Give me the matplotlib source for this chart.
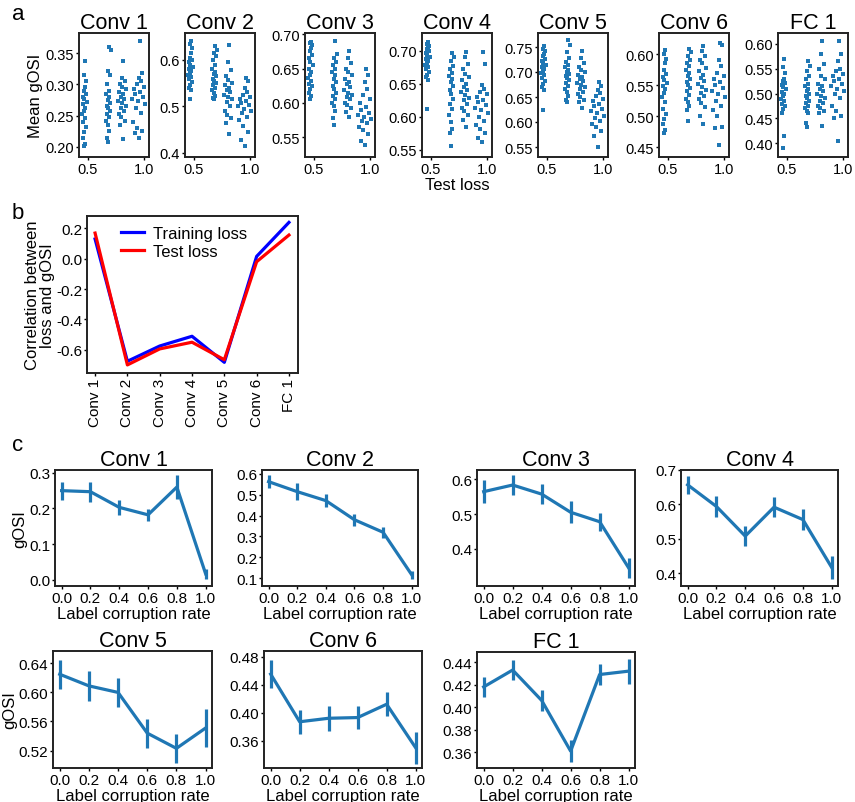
import matplotlib
matplotlib.use('Agg')
import matplotlib.pyplot as plt
import numpy as np

plt.rcParams['font.family'] = ['Liberation Sans', 'DejaVu Sans']

W, H = 855, 803
BLUE = '#1f77b4'

layers = ['Conv 1', 'Conv 2', 'Conv 3', 'Conv 4', 'Conv 5', 'Conv 6', 'FC 1']

# ---- panel a: test loss of each network (4 groups of 20), shared by all layers
test_loss = [
    0.462, 0.474, 0.455, 0.468, 0.481, 0.459, 0.470, 0.448, 0.465, 0.476,
    0.457, 0.492, 0.466, 0.452, 0.478, 0.461, 0.469, 0.485, 0.464, 0.472,
    0.680, 0.667, 0.689, 0.675, 0.660, 0.685, 0.671, 0.695, 0.678, 0.664,
    0.692, 0.673, 0.683, 0.655, 0.687, 0.669, 0.698, 0.677, 0.702, 0.682,
    0.806, 0.780, 0.823, 0.794, 0.770, 0.815, 0.788, 0.833, 0.800, 0.762,
    0.819, 0.791, 0.809, 0.776, 0.840, 0.797, 0.784, 0.828, 0.803, 0.812,
    0.948, 0.912, 0.977, 0.932, 0.895, 0.967, 0.926, 1.002, 0.943, 0.885,
    0.988, 0.920, 0.958, 0.905, 0.995, 0.938, 0.972, 0.953, 0.982, 0.962,
]

gosi_conv1 = [
    0.201, 0.205, 0.215, 0.224, 0.232, 0.240, 0.247, 0.253, 0.258, 0.263,
    0.268, 0.272, 0.276, 0.280, 0.285, 0.290, 0.295, 0.305, 0.315, 0.338,
    0.208, 0.214, 0.225, 0.235, 0.242, 0.248, 0.253, 0.257, 0.262, 0.266,
    0.270, 0.275, 0.280, 0.285, 0.290, 0.300, 0.315, 0.322, 0.355, 0.360,
    0.212, 0.235, 0.242, 0.248, 0.253, 0.258, 0.262, 0.266, 0.270, 0.273,
    0.277, 0.280, 0.284, 0.288, 0.292, 0.296, 0.300, 0.305, 0.310, 0.338,
    0.215, 0.222, 0.226, 0.230, 0.240, 0.255, 0.262, 0.268, 0.273, 0.277,
    0.280, 0.284, 0.288, 0.292, 0.296, 0.300, 0.305, 0.310, 0.318, 0.370,
]
gosi_conv2 = [
    0.515, 0.535, 0.540, 0.547, 0.553, 0.558, 0.563, 0.568, 0.572, 0.576,
    0.580, 0.585, 0.590, 0.595, 0.600, 0.605, 0.615, 0.625, 0.635, 0.640,
    0.515, 0.518, 0.522, 0.528, 0.535, 0.540, 0.545, 0.550, 0.555, 0.560,
    0.565, 0.570, 0.575, 0.580, 0.590, 0.600, 0.608, 0.615, 0.622, 0.630,
    0.440, 0.465, 0.475, 0.482, 0.490, 0.500, 0.510, 0.515, 0.520, 0.525,
    0.530, 0.535, 0.540, 0.545, 0.550, 0.557, 0.565, 0.578, 0.595, 0.632,
    0.415, 0.428, 0.445, 0.458, 0.470, 0.478, 0.485, 0.490, 0.495, 0.500,
    0.503, 0.507, 0.511, 0.515, 0.520, 0.525, 0.532, 0.540, 0.555, 0.562,
]
gosi_conv3 = [
    0.605, 0.610, 0.615, 0.620, 0.624, 0.628, 0.632, 0.636, 0.640, 0.645,
    0.650, 0.655, 0.660, 0.665, 0.670, 0.675, 0.680, 0.684, 0.687, 0.689,
    0.568, 0.578, 0.588, 0.595, 0.600, 0.605, 0.610, 0.615, 0.620, 0.625,
    0.630, 0.635, 0.640, 0.645, 0.650, 0.655, 0.660, 0.665, 0.672, 0.690,
    0.580, 0.587, 0.592, 0.597, 0.600, 0.605, 0.609, 0.612, 0.615, 0.619,
    0.623, 0.627, 0.631, 0.635, 0.640, 0.645, 0.650, 0.658, 0.665, 0.675,
    0.538, 0.545, 0.555, 0.560, 0.565, 0.570, 0.573, 0.576, 0.579, 0.582,
    0.585, 0.589, 0.594, 0.600, 0.605, 0.612, 0.620, 0.630, 0.640, 0.650,
]
gosi_conv4 = [
    0.612, 0.655, 0.660, 0.664, 0.668, 0.672, 0.675, 0.678, 0.681, 0.684,
    0.687, 0.690, 0.693, 0.696, 0.699, 0.702, 0.705, 0.708, 0.711, 0.714,
    0.555, 0.575, 0.582, 0.592, 0.602, 0.612, 0.620, 0.627, 0.634, 0.640,
    0.646, 0.652, 0.657, 0.662, 0.667, 0.672, 0.677, 0.685, 0.690, 0.697,
    0.585, 0.595, 0.602, 0.608, 0.614, 0.620, 0.625, 0.629, 0.633, 0.637,
    0.641, 0.645, 0.650, 0.655, 0.660, 0.665, 0.672, 0.680, 0.690, 0.698,
    0.562, 0.568, 0.575, 0.582, 0.588, 0.594, 0.600, 0.605, 0.610, 0.614,
    0.618, 0.622, 0.626, 0.630, 0.634, 0.638, 0.642, 0.648, 0.680, 0.698,
]
gosi_conv5 = [
    0.625, 0.665, 0.670, 0.676, 0.682, 0.688, 0.694, 0.698, 0.702, 0.706,
    0.710, 0.714, 0.718, 0.722, 0.727, 0.732, 0.737, 0.742, 0.747, 0.752,
    0.640, 0.645, 0.652, 0.660, 0.667, 0.673, 0.679, 0.684, 0.689, 0.693,
    0.697, 0.701, 0.705, 0.710, 0.715, 0.720, 0.728, 0.740, 0.755, 0.765,
    0.628, 0.640, 0.645, 0.650, 0.656, 0.661, 0.666, 0.671, 0.675, 0.679,
    0.683, 0.687, 0.691, 0.695, 0.700, 0.705, 0.710, 0.718, 0.728, 0.742,
    0.550, 0.572, 0.582, 0.590, 0.597, 0.603, 0.608, 0.613, 0.618, 0.622,
    0.627, 0.632, 0.637, 0.642, 0.647, 0.652, 0.658, 0.665, 0.672, 0.680,
]
gosi_conv6 = [
    0.472, 0.478, 0.487, 0.495, 0.503, 0.512, 0.522, 0.530, 0.537, 0.543,
    0.548, 0.553, 0.558, 0.563, 0.568, 0.575, 0.585, 0.592, 0.600, 0.607,
    0.492, 0.510, 0.516, 0.522, 0.528, 0.534, 0.540, 0.545, 0.550, 0.555,
    0.560, 0.565, 0.570, 0.575, 0.580, 0.585, 0.590, 0.597, 0.603, 0.608,
    0.487, 0.500, 0.515, 0.521, 0.527, 0.532, 0.537, 0.542, 0.547, 0.552,
    0.557, 0.562, 0.567, 0.572, 0.578, 0.585, 0.590, 0.597, 0.605, 0.613,
    0.454, 0.480, 0.483, 0.500, 0.510, 0.517, 0.524, 0.530, 0.535, 0.540,
    0.545, 0.550, 0.555, 0.560, 0.565, 0.570, 0.580, 0.590, 0.615, 0.618,
]
gosi_fc1 = [
    0.390, 0.415, 0.460, 0.468, 0.474, 0.479, 0.484, 0.489, 0.494, 0.499,
    0.504, 0.509, 0.513, 0.517, 0.521, 0.525, 0.530, 0.542, 0.553, 0.570,
    0.432, 0.440, 0.460, 0.465, 0.470, 0.475, 0.480, 0.485, 0.490, 0.495,
    0.500, 0.505, 0.510, 0.515, 0.520, 0.530, 0.535, 0.545, 0.555, 0.565,
    0.435, 0.460, 0.465, 0.470, 0.475, 0.480, 0.485, 0.490, 0.495, 0.500,
    0.505, 0.510, 0.515, 0.520, 0.530, 0.535, 0.550, 0.560, 0.580, 0.605,
    0.405, 0.450, 0.455, 0.465, 0.475, 0.490, 0.500, 0.505, 0.510, 0.515,
    0.520, 0.525, 0.530, 0.535, 0.540, 0.545, 0.550, 0.565, 0.580, 0.605,
]
gosi_all = [gosi_conv1, gosi_conv2, gosi_conv3, gosi_conv4, gosi_conv5, gosi_conv6, gosi_fc1]

a_ylims = [(0.184, 0.382), (0.391, 0.658), (0.521, 0.702), (0.539, 0.727),
           (0.530, 0.778), (0.434, 0.634), (0.372, 0.622)]
a_yticks = [[0.20, 0.25, 0.30, 0.35], [0.4, 0.5, 0.6], [0.55, 0.60, 0.65, 0.70],
            [0.55, 0.60, 0.65, 0.70], [0.55, 0.60, 0.65, 0.70, 0.75],
            [0.45, 0.50, 0.55, 0.60], [0.40, 0.45, 0.50, 0.55, 0.60]]
a_fmt = ['%.2f', '%.1f', '%.2f', '%.2f', '%.2f', '%.2f', '%.2f']

# ---- panel b: correlation between loss and gOSI
corr_train = [0.128, -0.674, -0.574, -0.510, -0.681, 0.014, 0.237]
corr_test = [0.167, -0.698, -0.593, -0.549, -0.664, -0.021, 0.154]

# ---- panel c: gOSI vs label corruption rate
corruption = [0.0, 0.2, 0.4, 0.6, 0.8, 1.0]
c_mean = [
    [0.250, 0.247, 0.203, 0.182, 0.260, 0.016],
    [0.563, 0.515, 0.472, 0.380, 0.320, 0.116],
    [0.564, 0.583, 0.557, 0.505, 0.478, 0.346],
    [0.657, 0.594, 0.508, 0.592, 0.556, 0.417],
    [0.625, 0.609, 0.600, 0.544, 0.523, 0.551],
    [0.455, 0.387, 0.392, 0.393, 0.412, 0.350],
    [0.418, 0.433, 0.406, 0.361, 0.429, 0.432],
]
c_err = [
    [0.025, 0.028, 0.022, 0.016, 0.034, 0.014],
    [0.032, 0.040, 0.032, 0.030, 0.026, 0.020],
    [0.032, 0.029, 0.029, 0.031, 0.026, 0.029],
    [0.026, 0.030, 0.030, 0.029, 0.030, 0.033],
    [0.020, 0.021, 0.020, 0.020, 0.020, 0.026],
    [0.020, 0.017, 0.018, 0.017, 0.017, 0.023],
    [0.009, 0.009, 0.009, 0.010, 0.009, 0.011],
]
c_ylims = [(-0.018, 0.308), (0.062, 0.619), (0.294, 0.626), (0.363, 0.700),
           (0.496, 0.657), (0.321, 0.488), (0.346, 0.449)]
c_yticks = [[0.0, 0.1, 0.2, 0.3], [0.1, 0.2, 0.3, 0.4, 0.5, 0.6], [0.4, 0.5, 0.6],
            [0.4, 0.5, 0.6, 0.7], [0.52, 0.56, 0.60, 0.64], [0.36, 0.40, 0.44, 0.48],
            [0.36, 0.38, 0.40, 0.42, 0.44]]
c_fmt = ['%.1f', '%.1f', '%.1f', '%.1f', '%.2f', '%.2f', '%.2f']


def box(left, top, right, bottom):
    # pixel box -> figure axes
    return fig.add_axes([left / W, 1 - bottom / H, (right - left) / W, (bottom - top) / H])


def style(ax, size):
    for s in ax.spines.values():
        s.set_linewidth(1.4)
        s.set_color('#222222')
    ax.tick_params(direction='out', length=2.5, width=1, labelsize=size, pad=1)


fig = plt.figure(figsize=(W / 100, H / 100), dpi=100)

# panel a
a_left = [79, 185, 305, 422, 538, 659, 778]
for i, name in enumerate(layers):
    ax = box(a_left[i], 34, a_left[i] + 70, 158)
    ax.scatter(test_loss, gosi_all[i], s=7, marker='s', color=BLUE, linewidths=0)
    ax.set_xlim(0.42, 1.04)
    ax.set_ylim(*a_ylims[i])
    ax.set_xticks([0.5, 1.0])
    ax.set_xticklabels(['0.5', '1.0'])
    ax.set_yticks(a_yticks[i])
    ax.set_yticklabels([a_fmt[i] % v for v in a_yticks[i]])
    style(ax, 10.5)
    ax.set_title(name, fontsize=15.5, pad=3)
    if i == 0:
        ax.set_ylabel('Mean gOSI', fontsize=12, labelpad=2)
    if i == 3:
        ax.set_xlabel('Test loss', fontsize=12, labelpad=0.5)

# panel b
ax = box(87, 217, 298, 374)
xb = np.arange(len(layers))
ax.plot(xb, corr_train, color='blue', lw=2.3, label='Training loss')
ax.plot(xb, corr_test, color='red', lw=2.3, label='Test loss')
ax.set_xlim(-0.25, 6.28)
ax.set_ylim(-0.751, 0.279)
ax.set_xticks(xb)
ax.set_xticklabels(layers, rotation=90)
ax.set_yticks([-0.6, -0.4, -0.2, 0.0, 0.2])
ax.set_yticklabels(['%.1f' % v for v in [-0.6, -0.4, -0.2, 0.0, 0.2]])
style(ax, 11)
ax.set_ylabel('Correlation between\nloss and gOSI', fontsize=12, labelpad=1, linespacing=0.95)
ax.legend(loc='upper center', bbox_to_anchor=(0.46, 1.03), frameon=False, fontsize=12,
          handlelength=1.4, handletextpad=0.5, labelspacing=0.15)

# panel c
c_boxes = [(55, 471, 212, 587), (262, 471, 418, 587), (477, 471, 635, 587), (681, 471, 838, 587),
           (53, 652, 212, 769), (264, 652, 422, 769), (477, 653, 635, 769)]
for i, name in enumerate(layers):
    ax = box(*c_boxes[i])
    ax.errorbar(corruption, c_mean[i], yerr=c_err[i], color=BLUE, lw=2.3,
                elinewidth=2.3, capsize=0)
    ax.set_xlim(-0.046, 1.044)
    ax.set_ylim(*c_ylims[i])
    ax.set_xticks(corruption)
    ax.set_xticklabels(['%.1f' % v for v in corruption])
    ax.set_yticks(c_yticks[i])
    ax.set_yticklabels([c_fmt[i] % v for v in c_yticks[i]])
    style(ax, 11)
    ax.set_title(name, fontsize=15.5, pad=3)
    ax.set_xlabel('Label corruption rate', fontsize=12, labelpad=0.5)
    if i in (0, 4):
        ax.set_ylabel('gOSI', fontsize=12, labelpad=1)

# panel letters
fig.text(12 / W, 1 - 14 / H, 'a', fontsize=16, va='center')
fig.text(12 / W, 1 - 214 / H, 'b', fontsize=16, va='center')
fig.text(12 / W, 1 - 446 / H, 'c', fontsize=16, va='center')

fig.savefig('out.png', dpi=100)
